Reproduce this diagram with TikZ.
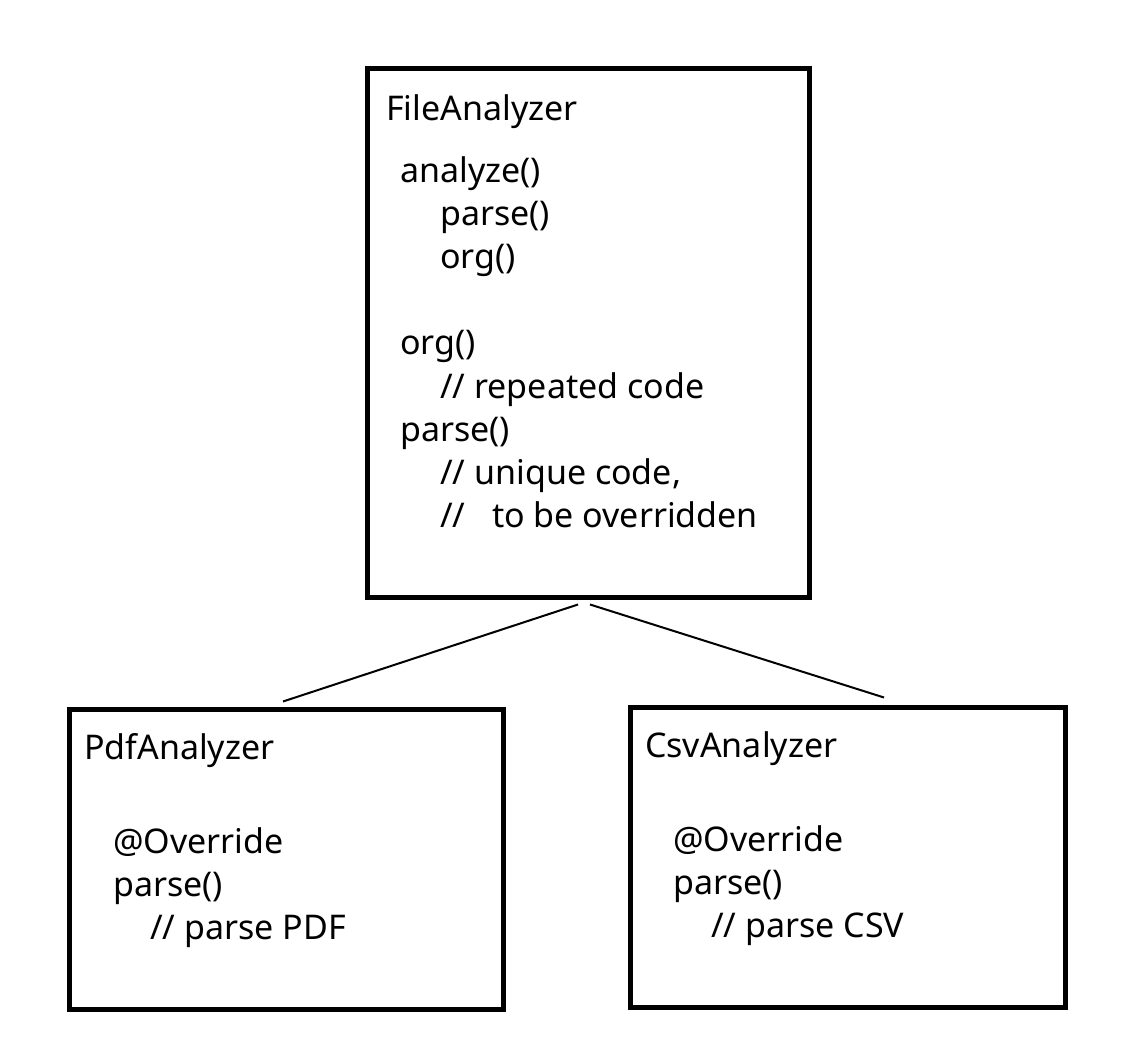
\documentclass[tikz,border=0pt]{standalone}
\usepackage{fontspec}
\setmainfont{Noto Sans}
\usetikzlibrary{positioning}
\newcommand{\boxline}{5pt}
\newcommand{\linkline}{2pt}

\begin{document}
\begin{tikzpicture}[x=1pt,y=-1pt,
  classbox/.style={draw, line width=\boxline, inner sep=0pt},
  codeline/.style={anchor=base west, inner sep=0pt, font=\fontsize{34}{40}\selectfont},
  link/.style={draw, line width=\linkline}]
\useasboundingbox (0,0) rectangle (1124,1056);
% boxes
\node[classbox, minimum width=442pt, minimum height=528pt] (file) at (588, 333) {};
\node[classbox, minimum width=434pt, minimum height=300pt] (pdf) at (286, 859) {};
\node[classbox, minimum width=435pt, minimum height=300pt] (csv) at (847.5, 857) {};
% FileAnalyzer
\node[codeline] (filename) at (386, 121) {FileAnalyzer};
\node[codeline] (analyze) at (400, 183) {analyze()};
\node[codeline] (callparse) at (440, 226) {parse()};
\node[codeline] (callorg) at (440, 269) {org()};
\node[codeline] (org) at (400, 355) {org()};
\node[codeline] (orgnote) at (440, 398) {// repeated code};
\node[codeline] (parse) at (400, 441) {parse()};
\node[codeline] (parsenote) at (440, 484) {// unique code,};
\node[codeline] (parsenotetwo) at (440, 527) {//\ \ \ to be overridden};
% PdfAnalyzer
\node[codeline] (pdfname) at (84, 759) {PdfAnalyzer};
\node[codeline] (pdfover) at (113, 853) {@Override};
\node[codeline] (pdfparse) at (113, 896) {parse()};
\node[codeline] (pdfnote) at (150, 939) {// parse PDF};
% CsvAnalyzer
\node[codeline] (csvname) at (645, 757) {CsvAnalyzer};
\node[codeline] (csvover) at (673, 851) {@Override};
\node[codeline] (csvparse) at (673, 894) {parse()};
\node[codeline] (csvnote) at (711, 937) {// parse CSV};
% links
\coordinate (fileleft) at ([xshift=-10pt,yshift=-5pt]file.south);
\coordinate (fileright) at ([xshift=2pt,yshift=-5pt]file.south);
\coordinate (pdftop) at ([xshift=-3pt,yshift=5pt]pdf.north);
\coordinate (csvtop) at ([xshift=36.5pt,yshift=7pt]csv.north);
\draw[link] (fileleft) -- (pdftop);
\draw[link] (fileright) -- (csvtop);
\end{tikzpicture}
\end{document}
